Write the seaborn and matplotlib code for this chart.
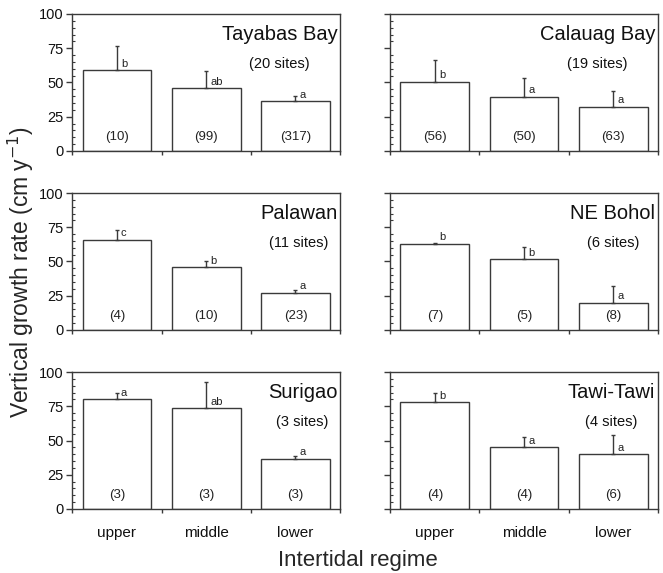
import numpy as np
import pandas as pd
import matplotlib
matplotlib.use("Agg")
import matplotlib.pyplot as plt
from matplotlib.ticker import MultipleLocator, FixedLocator, NullFormatter
import seaborn as sns

# data
regimes = ["upper", "middle", "lower"]
sites = ["Tayabas Bay", "Calauag Bay", "Palawan", "NE Bohol", "Surigao", "Tawi-Tawi"]
n_sites = [20, 19, 11, 6, 3, 4]

tayabas_mean = [59.0, 45.9, 36.3]
tayabas_err = [17.8, 12.4, 3.9]
calauag_mean = [50.5, 39.5, 32.2]
calauag_err = [15.8, 13.9, 11.5]
palawan_mean = [66.0, 45.9, 27.2]
palawan_err = [7.3, 4.8, 1.9]
bohol_mean = [63.1, 51.9, 19.9]
bohol_err = [0.5, 8.5, 12.4]
surigao_mean = [80.0, 73.7, 36.6]
surigao_err = [4.4, 19.2, 1.9]
tawi_mean = [77.8, 44.9, 40.2]
tawi_err = [6.8, 8.0, 13.8]

means = [tayabas_mean, calauag_mean, palawan_mean, bohol_mean, surigao_mean, tawi_mean]
errs = [tayabas_err, calauag_err, palawan_err, bohol_err, surigao_err, tawi_err]

letters = [["b", "ab", "a"], ["b", "a", "a"], ["c", "b", "a"],
           ["b", "b", "a"], ["a", "ab", "a"], ["b", "a", "a"]]
n_obs = [[10, 99, 317], [56, 50, 63], [4, 10, 23],
         [7, 5, 8], [3, 3, 3], [4, 4, 6]]

rows = []
for s, m, e in zip(sites, means, errs):
    for r, v, d in zip(regimes, m, e):
        rows.append({"site": s, "regime": r, "rate": v, "err": d})
df = pd.DataFrame(rows)

sns.set_style("ticks")
plt.rcParams["font.family"] = ["Liberation Sans", "DejaVu Sans"]
edge = "#3a3a3a"

fig, axes = plt.subplots(3, 2, figsize=(6.63, 5.73), dpi=100, sharey=True)
fig.subplots_adjust(left=0.109, right=0.9925, top=0.9756, bottom=0.1117,
                    wspace=0.187, hspace=0.307)

for k, (ax, site) in enumerate(zip(axes.flat, sites)):
    sub = df[df["site"] == site]
    sns.barplot(data=sub, x="regime", y="rate", order=regimes, color="white",
                edgecolor=edge, linewidth=1.0, width=0.77, errorbar=None,
                saturation=1, ax=ax)
    xs = np.arange(len(regimes))
    ax.errorbar(xs, sub["rate"], yerr=[np.zeros(len(xs)), sub["err"]],
                fmt="none", ecolor=edge, elinewidth=1.0, capsize=1.5,
                capthick=1.0)
    for i in range(len(regimes)):
        ax.text(xs[i] + 0.045, sub["rate"].iloc[i] + 1.0, letters[k][i],
                ha="left", va="bottom", fontsize=8, color="#222222")
        ax.text(xs[i], 10, f"({n_obs[k][i]})", ha="center", va="center",
                fontsize=9.5, color="#222222")

    # site name, with the site count centred under it
    t = ax.text(0.99, 0.85, site, transform=ax.transAxes, ha="right",
                va="center", fontsize=14.5, color="#111111")
    ax.annotate(f"({n_sites[k]} sites)", xy=(0.5, 0), xycoords=t,
                xytext=(0, -9), textcoords="offset points",
                ha="center", va="top", fontsize=10.5, color="#111111")

    ax.set_ylim(0, 100)
    ax.set_xlim(-0.5, 2.5)
    ax.yaxis.set_major_locator(MultipleLocator(25))
    ax.yaxis.set_minor_locator(MultipleLocator(5))
    ax.tick_params(axis="y", which="major", direction="out", length=4,
                   width=1, color=edge, labelsize=10.5, pad=2,
                   labelcolor="#111111")
    ax.tick_params(axis="y", which="minor", direction="in", length=2.5,
                   width=0.8, color=edge)
    ax.xaxis.set_minor_locator(FixedLocator([-0.5, 0.5, 1.5, 2.5]))
    ax.xaxis.set_minor_formatter(NullFormatter())
    ax.tick_params(axis="x", which="major", length=0, labelsize=11, pad=12,
                   labelcolor="#111111")
    ax.tick_params(axis="x", which="minor", direction="out", length=3,
                   width=1, color=edge)
    for sp in ax.spines.values():
        sp.set_visible(True)
        sp.set_color(edge)
        sp.set_linewidth(1.0)
    ax.set_xlabel("")
    ax.set_ylabel("")
    if k < 4:
        ax.set_xticklabels([])
    if k % 2 == 1:
        ax.tick_params(axis="y", labelleft=False)

fig.text(0.032, 0.525, "Vertical growth rate (cm y$^{-1}$)", rotation=90,
         ha="center", va="center", fontsize=16.5)
fig.text(0.540, 0.021, "Intertidal regime", ha="center", va="center",
         fontsize=16)

fig.savefig("out.png", dpi=100)
